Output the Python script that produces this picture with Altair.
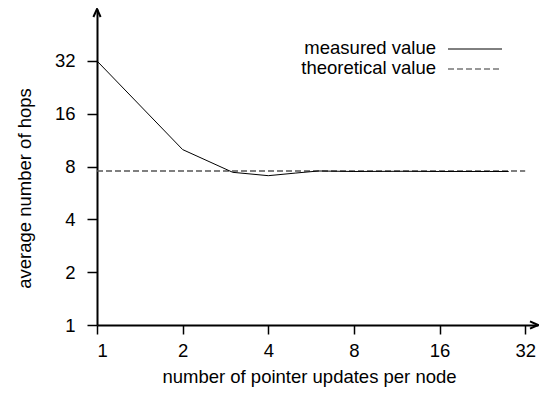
import altair as alt
import pandas as pd

# ---- data ----
MEAS_X = [1, 2, 3, 4, 5, 6, 8, 12, 16, 24, 28]
MEAS_Y = [32, 10.0, 7.42, 7.1, 7.35, 7.55, 7.5, 7.52, 7.5, 7.5, 7.5]
THEO_X = [1, 32]
THEO_Y = [7.55, 7.55]
X_TICKS = [1, 2, 4, 8, 16, 32]
Y_TICKS = [1, 2, 4, 8, 16, 32]
X_MAX = 35.5
Y_MAX = 63.3
LEGEND_LABELS = ["measured value", "theoretical value"]
X_TITLE = "number of pointer updates per node"
Y_TITLE = "average number of hops"

FONT = "Liberation Sans"
FS = 18.5

meas = pd.DataFrame({"x": MEAS_X, "y": MEAS_Y})
theo = pd.DataFrame({"x": THEO_X, "y": THEO_Y})
xarrow = pd.DataFrame({"x": [X_MAX], "y": [1]})
yarrow = pd.DataFrame({"x": [1], "y": [Y_MAX]})
one = pd.DataFrame({"k": [0]})

xscale = alt.Scale(type="log", base=2, domain=[1, X_MAX], nice=False, zero=False)
yscale = alt.Scale(type="log", base=2, domain=[1, Y_MAX], nice=False, zero=False)

xaxis = alt.Axis(values=X_TICKS, format="d", title=X_TITLE, grid=False,
                 tickSize=9, tickWidth=1.5, tickColor="black",
                 domainWidth=2, domainColor="black",
                 labelFontSize=FS, labelColor="black", labelPadding=7.5,
                 titleFontSize=FS, titleFontWeight="normal", titleColor="black",
                 titleX=212, titleY=51, titleBaseline="middle", titleAlign="center")
yaxis = alt.Axis(values=Y_TICKS, format="d", title=Y_TITLE, grid=False,
                 tickSize=10, tickWidth=1.5, tickColor="black",
                 domainWidth=2, domainColor="black",
                 labelFontSize=FS, labelColor="black", labelPadding=12,
                 titleFontSize=FS, titleFontWeight="normal", titleColor="black",
                 titleX=-73, titleY=179, titleAngle=270, titleBaseline="middle",
                 titleAlign="center")

theo_line = alt.Chart(theo).mark_line(color="#555555", strokeWidth=1.5,
                                      strokeDash=[6, 3]).encode(
    x=alt.X("x:Q", scale=xscale, axis=xaxis),
    y=alt.Y("y:Q", scale=yscale, axis=yaxis),
)
meas_line = alt.Chart(meas).mark_line(color="black", strokeWidth=1).encode(
    x=alt.X("x:Q", scale=xscale),
    y=alt.Y("y:Q", scale=yscale),
)
xa = alt.Chart(xarrow).mark_point(shape="M-1,-0.45L0,0L-1,0.45", size=256,
                                  filled=False, color="black", strokeWidth=2,
                                  opacity=1).encode(
    x=alt.X("x:Q", scale=xscale), y=alt.Y("y:Q", scale=yscale))
ya = alt.Chart(yarrow).mark_point(shape="M-0.45,1L0,0L0.45,1", size=256,
                                  filled=False, color="black", strokeWidth=2,
                                  opacity=1).encode(
    x=alt.X("x:Q", scale=xscale), y=alt.Y("y:Q", scale=yscale))

# legend (decoration, top right)
leg_t1 = alt.Chart(one).mark_text(align="right", baseline="middle", fontSize=FS,
                                  font=FONT, color="black").encode(
    x=alt.value(339), y=alt.value(39), text=alt.value(LEGEND_LABELS[0]))
leg_t2 = alt.Chart(one).mark_text(align="right", baseline="middle", fontSize=FS,
                                  font=FONT, color="black").encode(
    x=alt.value(339), y=alt.value(59), text=alt.value(LEGEND_LABELS[1]))
leg_r1 = alt.Chart(one).mark_rule(color="black", strokeWidth=1).encode(
    x=alt.value(351), x2=alt.value(405), y=alt.value(40))
leg_r2 = alt.Chart(one).mark_rule(color="#333333", strokeWidth=1.2,
                                  strokeDash=[6, 3]).encode(
    x=alt.value(351), x2=alt.value(405), y=alt.value(60))

chart = alt.layer(theo_line, meas_line, xa, ya, leg_t1, leg_t2, leg_r1, leg_r2).properties(
    width=441, height=316,
    autosize=alt.AutoSizeParams(type="none"),
    padding={"left": 89, "top": 1, "right": 1, "bottom": 62},
).configure(font=FONT).configure_view(stroke=None)

chart.save("out.html", embed_options={"renderer": "svg", "actions": False})
